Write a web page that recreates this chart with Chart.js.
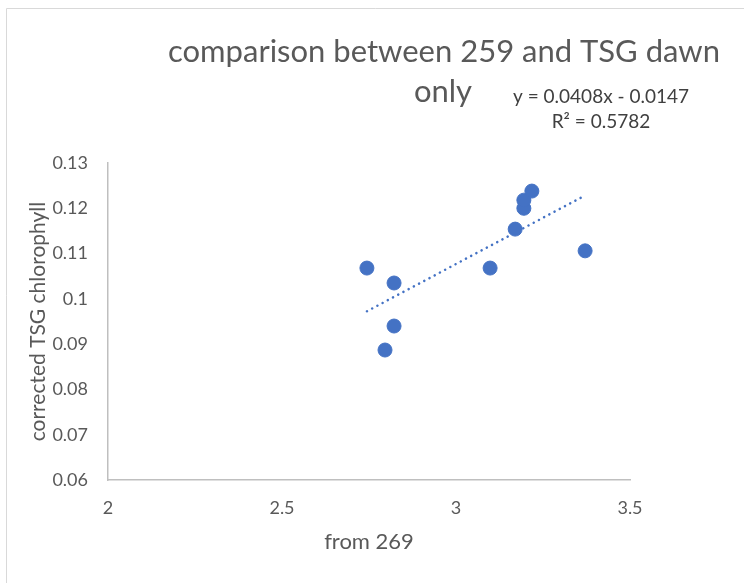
<!DOCTYPE html>
<html><head><meta charset="utf-8">
<script src="https://cdn.jsdelivr.net/npm/chart.js@4"></script>
<style>html,body{margin:0;padding:0;background:#fff}#wrap{width:744px;height:583px;position:relative}</style>
</head><body><div id="wrap"><canvas id="c" width="744" height="583"></canvas></div>
<script>
const xValues = [2.744, 2.822, 2.822, 2.796, 3.098, 3.170, 3.195, 3.195, 3.218, 3.371];
const yValues = [0.1068, 0.1035, 0.0940, 0.0887, 0.1068, 0.1154, 0.1200, 0.1218, 0.1238, 0.1106];
const trendSlope = 0.0408;
const trendIntercept = -0.0147;
const titleLines = ["comparison between 259 and TSG dawn", "only"];
const equationLines = ["y = 0.0408x - 0.0147", "R² = 0.5782"];
const xTitle = "from 269";
const yTitle = "corrected TSG chlorophyll";

const FONT = "Lato";
const pts = xValues.map((x, i) => ({x, y: yValues[i]}));
const xmin = Math.min(...xValues), xmax = Math.max(...xValues);
const trend = [xmin, xmax].map(x => ({x, y: trendSlope * x + trendIntercept}));

const textPlugin = {
  id: 'texts',
  afterDraw(chart) {
    const ctx = chart.ctx;
    ctx.save();
    ctx.strokeStyle = '#d9d9d9'; ctx.lineWidth = 1;
    ctx.beginPath(); ctx.moveTo(6.5, 583); ctx.lineTo(6.5, 8.5); ctx.lineTo(744, 8.5); ctx.stroke();
    ctx.fillStyle = '#595959';
    ctx.textAlign = 'center'; ctx.textBaseline = 'middle';
    ctx.font = `31px ${FONT}`;
    ctx.fillText(titleLines[0], 444, 52);
    ctx.fillText(titleLines[1], 443, 92);
    ctx.fillStyle = '#404040';
    ctx.font = `19px ${FONT}`;
    ctx.fillText(equationLines[0], 601, 97);
    ctx.fillText(equationLines[1], 601, 122);
    ctx.restore();
  }
};

new Chart(document.getElementById('c'), {
  data: {
    datasets: [
      { type: 'scatter', data: pts, backgroundColor: '#4472C4', borderColor: '#4472C4', pointRadius: 7, pointHoverRadius: 7, order: 1 },
      { type: 'line', data: trend, borderColor: '#4472C4', borderWidth: 2.5, borderDash: [0.1, 5.8], borderCapStyle: 'round', pointRadius: 0, fill: false, order: 2 }
    ]
  },
  options: {
    responsive: false, animation: false,
    layout: { padding: { left: 22, right: 114, top: 163, bottom: 24 } },
    plugins: { legend: { display: false }, tooltip: { enabled: false }, title: { display: false } },
    scales: {
      x: {
        type: 'linear', min: 2, max: 3.5,
        ticks: { stepSize: 0.5, color: '#595959', font: { family: FONT, size: 18 }, padding: 17, callback: v => String(v) },
        grid: { display: false, drawTicks: false },
        border: { display: true, color: '#bfbfbf', width: 1.5 },
        title: { display: true, text: xTitle, color: '#595959', font: { family: FONT, size: 22 }, padding: { top: 0 } },
        afterFit(s) { s.height = 79; }
      },
      y: {
        min: 0.06, max: 0.13,
        ticks: { stepSize: 0.01, color: '#595959', font: { family: FONT, size: 18 }, padding: 20, callback: v => String(Math.round(v * 100) / 100) },
        grid: { display: false, drawTicks: false },
        border: { display: true, color: '#bfbfbf', width: 1.5 },
        title: { display: true, text: yTitle, color: '#595959', font: { family: FONT, size: 21 } },
        afterFit(s) { s.width = 86; }
      }
    }
  },
  plugins: [textPlugin]
});
</script></body></html>
